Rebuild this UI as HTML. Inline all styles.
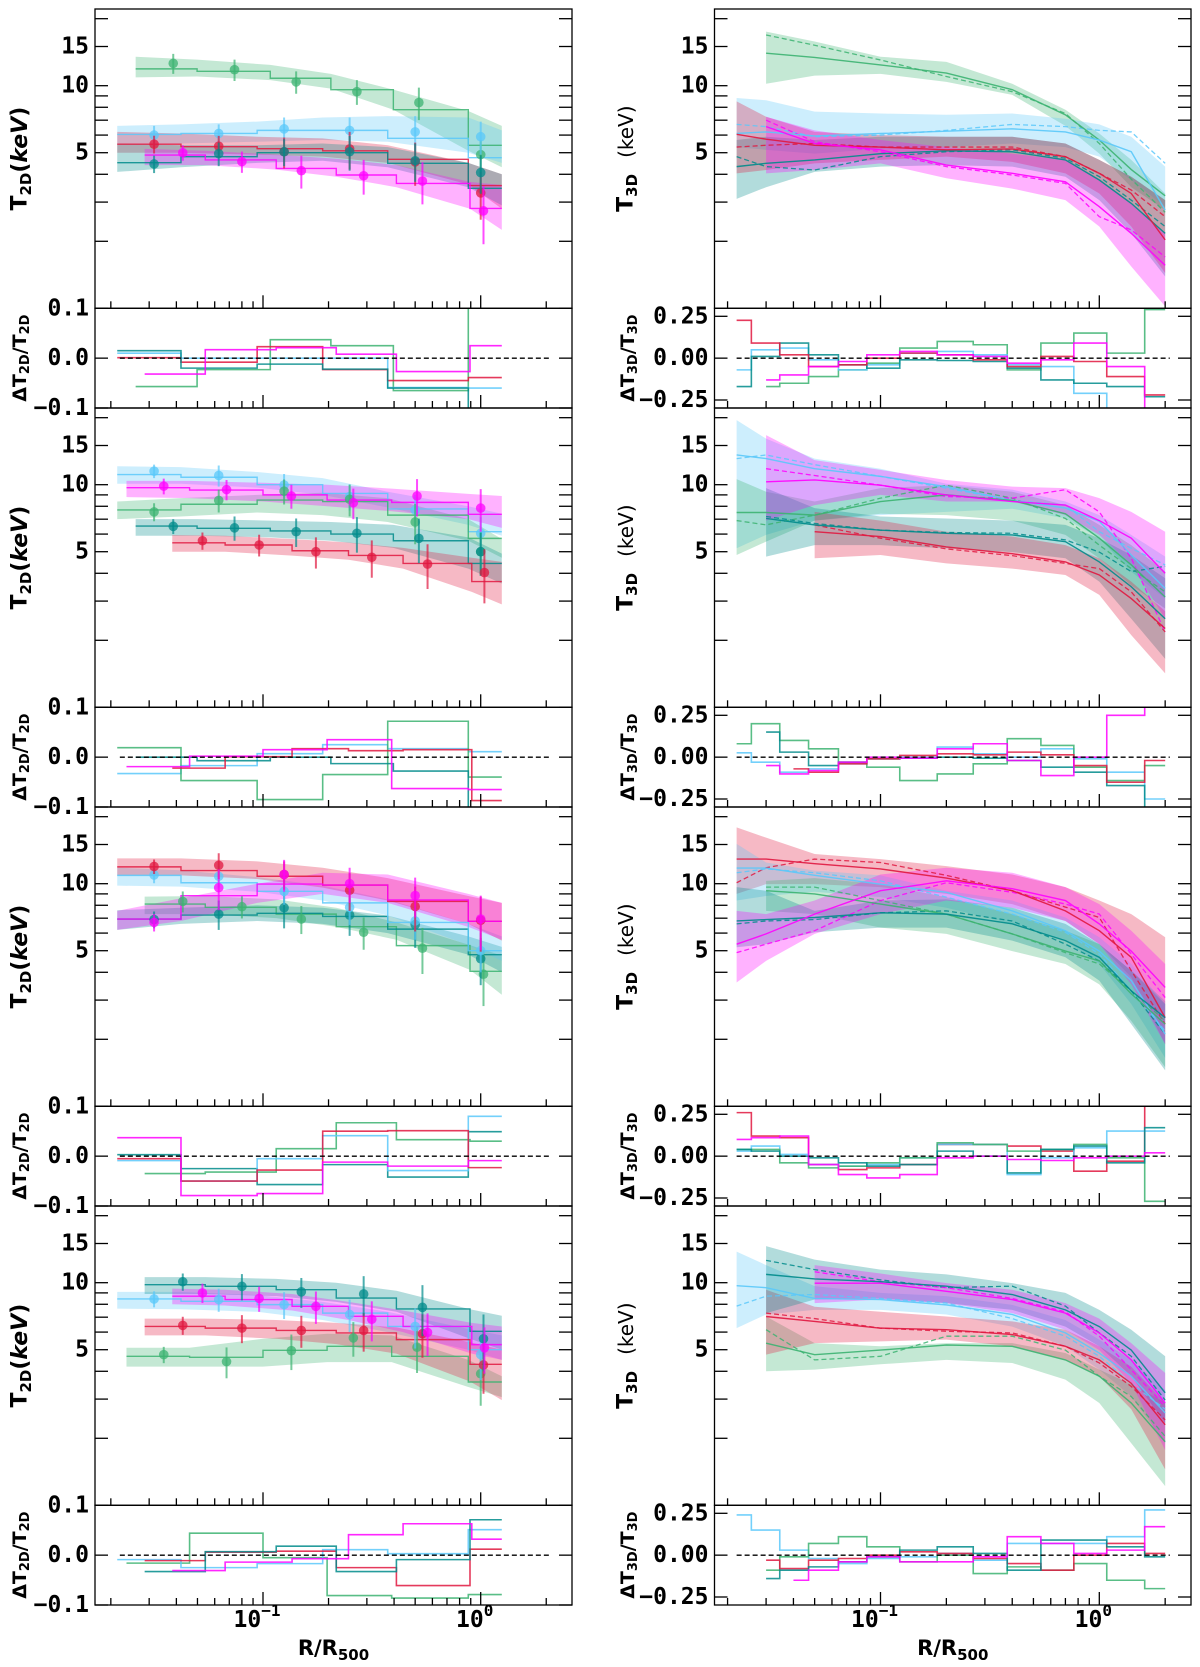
<!DOCTYPE html>
<html><head><meta charset="utf-8"><title>Temperature profiles</title>
<style>
html,body{margin:0;padding:0;background:#fff;}
svg{display:block;}
.tk{font-family:"DejaVu Sans Mono","Liberation Mono",monospace;font-weight:bold;font-size:23px;fill:#000;}
.ttl{font-family:"DejaVu Sans","Liberation Sans",sans-serif;font-weight:bold;fill:#000;}
</style></head>
<body>
<svg id="fig" xmlns="http://www.w3.org/2000/svg" width="1200" height="1667" viewBox="0 0 1200 1667"></svg>
<script>
// ---------- shared radial grids ----------
const E_A=[0.0214,0.042,0.094,0.188,0.374,0.877,1.25];
const E_B=[0.026,0.0498,0.108,0.205,0.397,0.877,1.25];
const E_C=[0.0286,0.0543,0.115,0.217,0.41,0.893,1.25];
const E_D=[0.0383,0.067,0.136,0.247,0.44,0.91,1.25];
const E_E=[0.0236,0.046,0.1,0.197,0.39,0.877,1.25];
const P_A=[0.0316,0.0626,0.125,0.25,0.5,1.0];
const P_B=[0.0387,0.074,0.142,0.27,0.52,1.0];
const P_C=[0.0428,0.08,0.15,0.29,0.54,1.03];
const P_D=[0.0527,0.096,0.175,0.316,0.57,1.04];
const P_E=[0.035,0.068,0.135,0.26,0.51,1.0];
const K10=[0.022,0.03,0.05,0.1,0.2,0.4,0.7,1.0,1.4,2.0];
const K14=[0.022,0.03,0.04,0.055,0.075,0.1,0.15,0.22,0.32,0.45,0.65,0.9,1.3,2.0];
const yTickMain=[5,10,15];
const yTickMinor=[2,3,4,6,7,8,9,20];
const resTickL=[0.1,0.0,-0.1];
const resTickLabL=['0.1','0.0','\u22120.1'];
const resTickR=[0.25,0.0,-0.25];
const resTickLabR=['0.25','0.00','\u22120.25'];

// ---------- LEFT row 1 ----------
const L1_green_step=[11.9,11.6,10.8,9.6,7.8,5.4];
const L1_green_T=[12.6,11.8,10.4,9.4,8.4,4.9];
const L1_green_err=[1.3,1.3,1.2,1.2,1.4,0.8];
const L1_green_lo=[10.9,11.0,10.6,9.7,7.8,5.1,4.3];
const L1_green_hi=[13.5,13.1,12.4,11.3,9.6,7.7,6.6];
const L1_green_res=[-0.057,-0.023,0.037,0.025,-0.065,0.15];
const L1_cyan_step=[6.04,6.1,6.3,6.3,5.8,4.75];
const L1_cyan_T=[6.0,6.1,6.4,6.3,6.2,5.9];
const L1_cyan_err=[0.6,0.6,0.8,0.9,1.1,1.0];
const L1_cyan_lo=[5.5,5.5,5.6,5.7,5.6,5.0,4.5];
const L1_cyan_hi=[6.6,6.7,6.9,7.2,7.3,7.2,6.3];
const L1_cyan_res=[0.01,0,0,0,-0.059,-0.06];
const L1_red_step=[5.46,5.32,5.21,5.1,4.67,3.56];
const L1_red_T=[5.46,5.35,5.05,5.2,4.55,3.3];
const L1_red_err=[0.5,0.6,0.8,1.0,1.0,0.8];
const L1_red_lo=[5.0,5.0,4.9,4.8,4.5,3.6,2.8];
const L1_red_hi=[6.2,6.1,5.9,5.8,5.4,4.5,4.0];
const L1_red_res=[0.001,-0.008,0.023,-0.023,-0.045,-0.039];
const L1_teal_step=[4.51,4.8,5.0,5.0,4.48,3.46];
const L1_teal_T=[4.45,4.95,5.05,5.05,4.6,4.07];
const L1_teal_err=[0.4,0.6,0.7,0.9,0.9,0.8];
const L1_teal_lo=[4.1,4.3,4.5,4.6,4.3,3.5,2.9];
const L1_teal_hi=[5.5,5.4,5.4,5.5,5.3,4.5,4.0];
const L1_teal_res=[0.015,-0.02,-0.012,-0.022,-0.06,-0.15];
const L1_magenta_step=[4.88,4.64,4.25,3.97,3.64,2.81];
const L1_magenta_T=[5.0,4.56,4.15,3.94,3.73,2.74];
const L1_magenta_err=[0.4,0.5,0.7,0.7,0.8,0.8];
const L1_magenta_lo=[4.4,4.4,4.2,3.9,3.5,2.8,2.25];
const L1_magenta_hi=[5.2,5.1,4.9,4.7,4.4,3.7,3.58];
const L1_magenta_res=[-0.032,0.017,0.021,0.008,-0.027,0.025];
// ---------- LEFT row 2 ----------
const L2_cyan_step=[11.1,10.8,10.0,9.14,7.78,6.15];
const L2_cyan_T=[11.5,11.0,9.97,8.85,7.7,6.05];
const L2_cyan_err=[0.8,1.2,1.2,1.2,1.3,1.1];
const L2_cyan_lo=[10.1,10.1,9.7,9.0,7.9,6.6,5.9];
const L2_cyan_hi=[12.1,12.0,11.4,10.7,9.3,8.0,7.4];
const L2_cyan_res=[-0.033,-0.017,0.007,0.025,0.017,0.011];
const L2_magenta_step=[9.7,9.46,9.0,8.53,8.33,7.36];
const L2_magenta_T=[9.85,9.5,8.9,8.3,8.9,7.85];
const L2_magenta_err=[0.8,1.0,1.1,1.3,1.7,1.7];
const L2_magenta_lo=[8.8,8.7,8.4,8.0,7.6,7.0,6.4];
const L2_magenta_hi=[10.4,10.4,10.2,10.0,9.6,9.1,8.9];
const L2_magenta_res=[-0.019,0.002,0.015,0.035,-0.063,-0.065];
const L2_green_step=[7.7,8.17,8.53,8.4,7.3,5.74];
const L2_green_T=[7.55,8.5,9.35,8.6,6.8,5.0];
const L2_green_err=[0.7,1.0,1.2,1.4,1.4,1.1];
const L2_green_lo=[7.0,7.2,7.5,7.3,6.8,5.6,4.7];
const L2_green_hi=[8.4,8.7,9.0,9.2,8.7,7.0,5.7];
const L2_green_res=[0.019,-0.047,-0.085,-0.035,0.072,-0.04];
const L2_teal_step=[6.52,6.37,6.2,6.0,5.6,4.43];
const L2_teal_T=[6.5,6.4,6.15,6.05,5.74,5.0];
const L2_teal_err=[0.5,0.8,0.9,1.1,1.3,1.1];
const L2_teal_lo=[5.9,5.9,5.8,5.6,5.2,4.2,3.6];
const L2_teal_hi=[7.0,7.0,6.9,6.8,6.6,5.8,4.9];
const L2_teal_res=[0,-0.007,0,-0.013,-0.028,-0.15];
const L2_red_step=[5.48,5.36,5.05,4.81,4.43,3.67];
const L2_red_T=[5.6,5.36,5.0,4.72,4.4,4.03];
const L2_red_err=[0.5,0.6,0.8,0.9,1.0,1.1];
const L2_red_lo=[5.0,5.0,4.8,4.6,4.2,3.3,2.9];
const L2_red_hi=[5.94,5.9,5.7,5.5,5.2,4.7,4.5];
const L2_red_res=[-0.022,0.001,0.017,0.013,0.015,-0.087];
// ---------- LEFT row 3 ----------
const L3_red_step=[11.9,11.45,10.8,9.86,8.33,6.78];
const L3_red_T=[11.95,12.1,11.0,9.35,7.9,6.85];
const L3_red_err=[0.9,1.6,1.6,1.8,1.8,1.9];
const L3_red_lo=[10.9,10.9,10.5,9.6,8.4,6.6,5.55];
const L3_red_hi=[13.0,13.0,12.6,11.8,10.6,8.8,8.2];
const L3_red_res=[-0.005,-0.05,-0.028,0.05,0.051,-0.023];
const L3_cyan_step=[10.9,10.1,9.24,8.2,6.7,5.0];
const L3_cyan_T=[10.95,10.8,9.24,7.83,6.8,5.0];
const L3_cyan_err=[0.9,1.2,1.2,1.3,1.2,1.0];
const L3_cyan_lo=[9.8,9.7,9.2,8.4,7.2,5.3,4.5];
const L3_cyan_hi=[11.8,11.5,10.7,9.8,8.5,6.6,5.8];
const L3_cyan_res=[-0.009,-0.05,-0.005,0.041,-0.029,0.08];
const L3_magenta_step=[6.94,8.83,9.96,9.86,8.45,6.78];
const L3_magenta_T=[6.7,9.6,11.0,10.0,8.85,6.94];
const L3_magenta_err=[0.6,2.0,1.8,1.8,1.8,1.9];
const L3_magenta_lo=[6.2,6.8,8.2,9.0,8.2,6.4,5.6];
const L3_magenta_hi=[7.55,8.6,10.0,11.2,11.0,9.0,8.2];
const L3_magenta_res=[0.037,-0.079,-0.075,-0.012,-0.02,-0.009];
const L3_teal_step=[6.94,7.23,7.36,7.13,6.25,4.8];
const L3_teal_T=[6.9,7.3,7.8,7.23,6.55,4.6];
const L3_teal_err=[0.6,1.1,1.5,1.4,1.4,1.1];
const L3_teal_lo=[6.2,6.6,6.8,6.6,6.0,4.8,4.0];
const L3_teal_hi=[7.6,7.8,8.0,7.8,7.2,5.8,5.2];
const L3_teal_res=[0.003,-0.025,-0.057,-0.017,-0.042,0.049];
const L3_green_step=[8.1,7.83,7.3,6.41,5.27,4.04];
const L3_green_T=[8.33,7.88,6.94,6.05,5.13,3.92];
const L3_green_err=[0.9,0.9,1.0,1.0,1.2,1.1];
const L3_green_lo=[7.3,7.3,7.0,6.4,5.6,4.1,3.17];
const L3_green_hi=[8.75,8.8,8.5,7.8,6.7,5.3,4.75];
const L3_green_res=[-0.035,-0.032,0.015,0.067,0.033,0.03];
// ---------- LEFT row 4 ----------
const L4_teal_step=[9.8,9.63,9.3,8.53,7.62,6.05];
const L4_teal_T=[10.1,9.63,9.1,8.9,7.75,5.6];
const L4_teal_err=[0.9,1.3,1.4,1.8,2.0,1.6];
const L4_teal_lo=[8.9,8.9,8.7,8.2,7.4,5.6,5.0];
const L4_teal_hi=[10.6,10.6,10.4,10.0,9.2,7.6,7.1];
const L4_teal_res=[-0.033,0.007,0.018,-0.033,-0.009,0.071];
const L4_magenta_step=[8.7,8.4,7.83,7.06,6.36,5.27];
const L4_magenta_T=[9.0,8.5,7.83,6.85,5.98,5.1];
const L4_magenta_err=[0.9,1.1,1.3,1.4,1.3,1.2];
const L4_magenta_lo=[8.0,7.9,7.5,6.8,6.0,4.8,4.5];
const L4_magenta_hi=[9.4,9.3,8.9,8.2,7.5,6.6,6.36];
const L4_magenta_res=[-0.031,-0.014,-0.007,0.041,0.063,0.032];
const L4_cyan_step=[8.45,8.25,7.97,7.3,6.36,5.0];
const L4_cyan_T=[8.45,8.4,7.97,7.2,6.36,4.75];
const L4_cyan_err=[0.7,1.0,1.1,1.2,1.3,1.1];
const L4_cyan_lo=[7.65,7.6,7.4,6.8,6.0,5.0,4.5];
const L4_cyan_hi=[9.1,9.1,8.8,8.2,7.4,6.2,5.8];
const L4_cyan_res=[-0.009,-0.025,-0.017,0.011,0.003,0.051];
const L4_red_step=[6.36,6.25,6.1,5.95,5.55,4.3];
const L4_red_T=[6.43,6.25,6.1,6.1,5.9,4.27];
const L4_red_err=[0.6,0.9,1.0,1.2,1.3,1.1];
const L4_red_lo=[5.8,5.8,5.6,5.3,4.8,3.6,2.97];
const L4_red_hi=[6.9,6.9,6.8,6.6,6.3,5.4,5.0];
const L4_red_res=[-0.011,0.006,0.008,-0.025,-0.061,0.012];
const L4_green_step=[4.67,4.62,4.97,5.18,4.67,3.58];
const L4_green_T=[4.75,4.42,4.95,5.65,5.13,3.9];
const L4_green_err=[0.4,0.7,0.9,1.0,1.2,1.1];
const L4_green_lo=[4.2,4.2,4.2,4.4,4.4,3.4,3.06];
const L4_green_hi=[5.1,5.1,5.6,5.9,5.8,4.5,3.8];
const L4_green_res=[-0.016,0.044,-0.005,-0.081,-0.086,-0.079];

// ---------- RIGHT row 1 (knots K10; residual K14) ----------
const R1_green_T=[null,14.0,13.4,12.4,11.4,9.6,7.4,5.7,4.2,3.2];
const R1_green_D=[null,16.9,15.2,13.05,11.0,9.4,7.5,5.5,3.8,2.7];
const R1_green_hi=[null,17.5,15.8,13.5,12.8,10.2,7.8,6.1,4.64,3.28];
const R1_green_lo=[null,10.2,11.1,11.3,10.4,9.1,6.6,4.95,3.5,2.76];
const R1_green_res=[null,-0.17,-0.15,-0.11,-0.07,-0.03,0.06,0.1,0.08,-0.07,0.09,0.15,0.03,0.29];
const R1_cyan_T=[6.1,6.2,5.95,6.1,6.25,6.4,6.2,5.7,5.05,2.76];
const R1_cyan_D=[6.7,6.55,5.9,6.0,6.3,6.7,6.55,6.3,6.2,4.48];
const R1_cyan_hi=[8.8,8.6,7.65,7.5,7.4,7.5,7.1,6.7,5.9,4.33];
const R1_cyan_lo=[5.3,5.15,4.95,5.2,5.3,5.5,5.3,4.8,3.77,2.86];
const R1_cyan_res=[-0.07,0.05,0.06,-0.01,-0.07,-0.04,0.03,0.04,0.02,-0.04,-0.05,-0.21,-0.32,-0.36];
const R1_red_T=[6.05,5.75,5.4,5.3,5.15,5.2,4.8,4.04,3.28,2.03];
const R1_red_D=[5.3,5.4,5.5,5.3,5.3,5.3,4.8,4.04,3.4,2.58];
const R1_red_hi=[8.5,7.25,6.2,6.0,5.9,5.9,5.5,4.64,3.9,3.06];
const R1_red_lo=[4.04,4.18,4.48,4.64,4.8,4.55,4.04,3.28,2.33,1.44];
const R1_red_res=[0.226,0.09,0.02,-0.05,-0.04,0,0.03,0.02,-0.01,-0.05,0.01,-0.02,-0.11,-0.22];
const R1_teal_T=[4.33,4.48,4.64,4.95,5.1,5.05,4.64,3.77,2.96,2.17];
const R1_teal_D=[4.8,4.33,4.18,4.8,5.05,5.15,4.72,3.9,3.06,2.33];
const R1_teal_hi=[5.7,5.9,5.7,5.9,5.9,5.9,5.5,4.64,3.9,3.06];
const R1_teal_lo=[3.1,3.5,4.1,4.33,4.4,4.33,3.9,3.06,2.17,1.39];
const R1_teal_res=[-0.17,0.01,0.09,0.02,-0.04,-0.06,-0.01,-0.014,-0.02,-0.06,-0.13,-0.15,-0.17,-0.23];
const R1_magenta_T=[null,6.55,5.5,5.15,4.4,4.04,3.7,2.86,2.17,1.56];
const R1_magenta_D=[null,7.0,5.6,5.05,4.33,3.97,3.64,2.58,2.25,1.7];
const R1_magenta_hi=[null,7.25,6.3,5.7,5.3,4.95,4.64,3.77,2.96,2.17];
const R1_magenta_lo=[null,4.04,4.18,4.48,3.84,3.45,3.06,2.33,1.54,1.02];
const R1_magenta_res=[null,-0.13,-0.1,-0.05,-0.02,0.02,0.04,0.02,0.01,-0.03,-0.01,0.09,-0.05,-0.3];
// ---------- RIGHT row 2 ----------
const R2_cyan_T=[13.6,13.1,11.8,10.9,9.8,8.5,7.85,6.85,4.83,3.42];
const R2_cyan_D=[13.1,13.6,12.3,10.9,9.65,8.5,8.1,6.15,5.18,4.36];
const R2_cyan_hi=[19.5,16.1,13.1,11.8,10.1,9.5,8.4,7.3,5.95,4.75];
const R2_cyan_lo=[5.18,5.95,6.9,7.3,7.55,7.8,7.05,5.75,4.07,3.08];
const R2_cyan_res=[0.026,-0.03,-0.09,-0.07,-0.04,-0.01,0,0.06,0.02,0,0.05,-0.01,-0.09,-0.25];
const R2_magenta_T=[null,10.3,10.5,9.95,9.0,8.4,8.1,6.9,5.75,4.0];
const R2_magenta_D=[null,11.8,11.0,9.95,8.85,8.7,9.5,7.55,4.67,2.18];
const R2_magenta_hi=[null,16.7,12.9,11.65,10.5,9.8,9.65,8.7,7.55,6.15];
const R2_magenta_lo=[null,6.9,8.1,9.0,8.4,8.4,7.3,5.95,4.36,2.5];
const R2_magenta_res=[null,-0.05,-0.1,-0.08,-0.03,0,-0.006,0.05,0.08,-0.02,-0.11,0,0.25,0.35];
const R2_green_T=[7.5,7.5,7.3,8.4,9.0,8.5,7.4,5.75,4.36,3.13];
const R2_green_D=[6.9,6.6,7.3,8.7,9.95,8.7,7.05,5.35,4.2,3.3];
const R2_green_hi=[10.6,9.3,8.4,9.65,9.95,9.3,8.1,6.6,5.35,4.07];
const R2_green_lo=[4.83,5.55,6.9,7.4,7.3,6.9,5.95,4.67,3.53,2.78];
const R2_green_res=[0.08,0.2,0.1,0.05,-0.03,-0.06,-0.14,-0.1,-0.04,0.11,0.07,-0.06,-0.14,-0.05];
const R2_teal_T=[null,7.05,6.6,6.25,6.05,5.95,5.55,4.5,3.48,2.5];
const R2_teal_D=[null,7.2,6.7,6.25,6.1,6.05,5.65,4.98,4.07,4.3];
const R2_teal_hi=[null,9.65,7.85,7.2,7.05,6.9,6.6,5.75,4.83,3.8];
const R2_teal_lo=[null,4.75,5.35,5.35,5.18,4.98,4.67,3.67,2.5,1.65];
const R2_teal_res=[null,0.15,0.03,-0.05,-0.03,-0.01,-0.006,0,-0.006,-0.02,-0.06,-0.09,-0.17,-0.35];
const R2_red_T=[null,null,6.15,5.85,5.25,4.9,4.5,3.93,3.08,2.26];
const R2_red_D=[null,null,6.6,5.75,5.15,4.8,4.43,4.2,3.3,2.18];
const R2_red_hi=[null,null,7.55,6.9,6.15,5.85,5.35,4.67,3.67,2.7];
const R2_red_lo=[null,null,4.67,4.83,4.43,4.2,3.93,3.2,2.11,1.42];
const R2_red_res=[null,null,-0.07,-0.09,-0.04,-0.01,0.01,0.02,0.014,0.03,0.014,-0.05,-0.15,-0.02];
// ---------- RIGHT row 3 ----------
const R3_red_T=[12.9,12.9,12.3,11.65,10.6,9.3,7.55,6.15,4.67,2.5];
const R3_red_D=[10.1,11.8,12.9,12.45,10.9,9.3,7.85,7.05,4.07,2.34];
const R3_red_hi=[17.9,16.1,13.6,12.9,12.0,11.0,9.65,8.4,7.3,5.75];
const R3_red_lo=[9.0,9.95,9.95,9.65,9.0,8.1,6.8,5.35,3.8,1.9];
const R3_red_res=[0.26,0.12,0.11,-0.05,-0.08,-0.07,-0.05,0.07,0.07,0.06,0.03,-0.09,-0.03,0.31];
const R3_cyan_T=[11.75,11.75,10.9,9.95,9.15,7.55,6.15,4.98,3.67,2.11];
const R3_cyan_D=[11.2,11.65,11.2,10.3,8.7,7.3,6.05,4.83,3.3,2.18];
const R3_cyan_hi=[15.1,12.45,11.45,10.9,9.3,8.4,7.05,5.75,4.36,2.88];
const R3_cyan_lo=[8.4,8.8,9.2,8.7,7.8,6.6,5.55,4.36,2.88,1.65];
const R3_cyan_res=[0.03,0.06,0.01,-0.05,-0.06,-0.05,-0.01,0.07,0.07,-0.11,-0.01,0.05,0.15,0.15];
const R3_green_T=[null,9.3,9.0,8.1,7.3,5.95,4.98,4.5,3.2,2.34];
const R3_green_D=[null,9.65,9.65,8.4,7.3,5.95,4.9,4.36,3.3,2.42];
const R3_green_hi=[null,10.3,10.6,9.95,8.7,7.3,6.15,5.35,4.07,2.97];
const R3_green_lo=[null,7.55,7.3,6.35,5.95,4.98,4.36,3.53,2.42,1.5];
const R3_green_res=[0.04,0.04,-0.04,-0.07,-0.06,-0.04,-0.01,0.08,0.07,0.03,0.04,0.07,-0.01,-0.27];
const R3_teal_T=[6.8,6.9,7.05,7.4,7.3,6.6,5.55,4.67,3.3,2.5];
const R3_teal_D=[6.6,6.8,6.9,7.4,7.55,6.8,5.35,4.5,3.3,2.11];
const R3_teal_hi=[9.65,9.3,7.55,8.4,8.5,7.8,6.6,5.35,4.07,2.88];
const R3_teal_lo=[5.18,5.35,6.05,6.35,6.35,5.55,4.67,3.67,2.34,1.45];
const R3_teal_res=[0.04,0.03,0,-0.01,-0.04,-0.06,-0.05,0.03,0,-0.1,0.04,0.06,-0.04,0.17];
const R3_magenta_T=[5.35,5.95,7.3,9.3,10.3,9.5,8.4,6.6,4.98,3.42];
const R3_magenta_D=[4.9,5.35,6.15,8.4,10.1,9.15,8.1,7.3,4.83,3.08];
const R3_magenta_hi=[7.55,7.3,8.4,11.0,11.8,11.2,9.65,8.1,6.15,4.36];
const R3_magenta_lo=[3.6,4.5,5.95,7.3,8.4,7.8,6.8,5.35,3.53,1.9];
const R3_magenta_res=[0.1,0.11,0.12,-0.05,-0.11,-0.13,-0.11,-0.01,0,-0.02,-0.026,-0.01,0,0.02];
// ---------- RIGHT row 4 ----------
const R4_cyan_T=[9.7,9.5,8.5,8.4,7.95,7.2,5.95,4.83,3.8,2.6];
const R4_cyan_D=[7.85,8.7,8.85,8.5,8.1,6.9,5.75,4.67,3.53,2.7];
const R4_cyan_hi=[13.8,12.0,9.65,9.0,8.7,7.95,6.8,5.55,4.5,3.3];
const R4_cyan_lo=[6.25,7.2,7.55,7.55,7.2,6.35,5.18,4.07,3.08,1.9];
const R4_cyan_res=[0.24,0.15,0.03,-0.02,-0.05,-0.02,-0.01,0.01,-0.03,0.07,0.07,0.07,0.11,0.27];
const R4_green_T=[null,5.35,4.75,4.98,5.25,5.18,4.5,3.8,2.88,1.93];
const R4_green_D=[null,6.15,4.5,4.67,5.75,5.75,4.98,3.8,3.08,2.04];
const R4_green_hi=[null,7.05,5.35,5.18,5.35,5.35,4.83,4.07,3.5,2.9];
const R4_green_lo=[null,4.0,4.07,4.3,4.5,4.36,3.67,2.88,1.9,1.22];
const R4_green_res=[null,-0.09,-0.01,0.07,0.11,0.05,-0.04,0,-0.11,-0.07,-0.09,-0.05,-0.15,-0.2];
const R4_red_T=[null,7.05,6.7,6.25,6.15,5.85,5.18,4.5,3.53,2.3];
const R4_red_D=[null,7.3,6.9,6.25,6.05,5.95,5.18,4.36,3.42,2.42];
const R4_red_hi=[null,9.3,7.8,7.4,7.05,6.7,6.15,5.18,4.2,2.88];
const R4_red_lo=[null,4.75,5.35,5.45,5.55,5.18,4.5,3.8,2.7,1.45];
const R4_red_res=[null,-0.03,-0.08,-0.03,-0.02,0,0.02,0.01,-0.02,-0.05,-0.09,0,0.07,0.01];
const R4_teal_T=[null,10.9,10.4,10.1,9.65,8.85,7.55,6.35,4.98,3.2];
const R4_teal_D=[null,12.6,11.45,10.3,9.5,9.65,7.85,5.95,4.67,2.97];
const R4_teal_hi=[null,14.6,12.7,11.45,10.9,9.95,9.0,7.55,6.15,4.67];
const R4_teal_lo=[null,7.3,8.4,8.5,8.1,7.55,6.35,5.18,3.8,2.34];
const R4_teal_res=[null,-0.14,-0.09,-0.07,-0.04,-0.01,0.03,0.05,0.01,-0.09,0.09,0.09,0.05,-0.01];
const R4_magenta_T=[null,null,9.95,9.95,9.15,8.4,7.3,5.95,4.5,2.88];
const R4_magenta_D=[null,null,11.2,10.1,9.5,8.5,7.4,5.75,4.07,2.78];
const R4_magenta_hi=[null,null,12.0,11.0,9.95,9.3,8.1,6.9,5.35,3.93];
const R4_magenta_lo=[null,null,8.1,8.4,8.1,7.3,6.15,4.98,3.53,1.77];
const R4_magenta_res=[null,null,-0.15,-0.09,-0.04,-0.01,-0.04,-0.04,-0.01,0.11,0.07,0.01,0.03,0.17];

// ---------- series assembly ----------
const COL={green:'#3cb371',cyan:'#5ac8fa',red:'#e0173f',magenta:'#ff00ff',teal:'#008b8b'};
const LROWS=[
 [{c:'green',e:E_B,s:L1_green_step,r:P_B,t:L1_green_T,er:L1_green_err,lo:L1_green_lo,hi:L1_green_hi,res:L1_green_res},
  {c:'cyan',e:E_A,s:L1_cyan_step,r:P_A,t:L1_cyan_T,er:L1_cyan_err,lo:L1_cyan_lo,hi:L1_cyan_hi,res:L1_cyan_res},
  {c:'red',e:E_A,s:L1_red_step,r:P_A,t:L1_red_T,er:L1_red_err,lo:L1_red_lo,hi:L1_red_hi,res:L1_red_res},
  {c:'teal',e:E_A,s:L1_teal_step,r:P_A,t:L1_teal_T,er:L1_teal_err,lo:L1_teal_lo,hi:L1_teal_hi,res:L1_teal_res},
  {c:'magenta',e:E_C,s:L1_magenta_step,r:P_C,t:L1_magenta_T,er:L1_magenta_err,lo:L1_magenta_lo,hi:L1_magenta_hi,res:L1_magenta_res}],
 [{c:'cyan',e:E_A,s:L2_cyan_step,r:P_A,t:L2_cyan_T,er:L2_cyan_err,lo:L2_cyan_lo,hi:L2_cyan_hi,res:L2_cyan_res},
  {c:'green',e:E_A,s:L2_green_step,r:P_A,t:L2_green_T,er:L2_green_err,lo:L2_green_lo,hi:L2_green_hi,res:L2_green_res},
  {c:'teal',e:E_B,s:L2_teal_step,r:P_B,t:L2_teal_T,er:L2_teal_err,lo:L2_teal_lo,hi:L2_teal_hi,res:L2_teal_res},
  {c:'red',e:E_D,s:L2_red_step,r:P_D,t:L2_red_T,er:L2_red_err,lo:L2_red_lo,hi:L2_red_hi,res:L2_red_res},
  {c:'magenta',e:E_E,s:L2_magenta_step,r:P_E,t:L2_magenta_T,er:L2_magenta_err,lo:L2_magenta_lo,hi:L2_magenta_hi,res:L2_magenta_res}],
 [{c:'green',e:E_C,s:L3_green_step,r:P_C,t:L3_green_T,er:L3_green_err,lo:L3_green_lo,hi:L3_green_hi,res:L3_green_res},
  {c:'teal',e:E_A,s:L3_teal_step,r:P_A,t:L3_teal_T,er:L3_teal_err,lo:L3_teal_lo,hi:L3_teal_hi,res:L3_teal_res},
  {c:'cyan',e:E_A,s:L3_cyan_step,r:P_A,t:L3_cyan_T,er:L3_cyan_err,lo:L3_cyan_lo,hi:L3_cyan_hi,res:L3_cyan_res},
  {c:'red',e:E_A,s:L3_red_step,r:P_A,t:L3_red_T,er:L3_red_err,lo:L3_red_lo,hi:L3_red_hi,res:L3_red_res},
  {c:'magenta',e:E_A,s:L3_magenta_step,r:P_A,t:L3_magenta_T,er:L3_magenta_err,lo:L3_magenta_lo,hi:L3_magenta_hi,res:L3_magenta_res}],
 [{c:'green',e:E_E,s:L4_green_step,r:P_E,t:L4_green_T,er:L4_green_err,lo:L4_green_lo,hi:L4_green_hi,res:L4_green_res},
  {c:'cyan',e:E_A,s:L4_cyan_step,r:P_A,t:L4_cyan_T,er:L4_cyan_err,lo:L4_cyan_lo,hi:L4_cyan_hi,res:L4_cyan_res},
  {c:'red',e:E_C,s:L4_red_step,r:P_C,t:L4_red_T,er:L4_red_err,lo:L4_red_lo,hi:L4_red_hi,res:L4_red_res},
  {c:'teal',e:E_C,s:L4_teal_step,r:P_C,t:L4_teal_T,er:L4_teal_err,lo:L4_teal_lo,hi:L4_teal_hi,res:L4_teal_res},
  {c:'magenta',e:E_D,s:L4_magenta_step,r:P_D,t:L4_magenta_T,er:L4_magenta_err,lo:L4_magenta_lo,hi:L4_magenta_hi,res:L4_magenta_res}]
];
const RROWS=[
 [{c:'green',t:R1_green_T,d:R1_green_D,lo:R1_green_lo,hi:R1_green_hi,res:R1_green_res},
  {c:'cyan',t:R1_cyan_T,d:R1_cyan_D,lo:R1_cyan_lo,hi:R1_cyan_hi,res:R1_cyan_res},
  {c:'teal',t:R1_teal_T,d:R1_teal_D,lo:R1_teal_lo,hi:R1_teal_hi,res:R1_teal_res},
  {c:'red',t:R1_red_T,d:R1_red_D,lo:R1_red_lo,hi:R1_red_hi,res:R1_red_res},
  {c:'magenta',t:R1_magenta_T,d:R1_magenta_D,lo:R1_magenta_lo,hi:R1_magenta_hi,res:R1_magenta_res}],
 [{c:'cyan',t:R2_cyan_T,d:R2_cyan_D,lo:R2_cyan_lo,hi:R2_cyan_hi,res:R2_cyan_res},
  {c:'green',t:R2_green_T,d:R2_green_D,lo:R2_green_lo,hi:R2_green_hi,res:R2_green_res},
  {c:'teal',t:R2_teal_T,d:R2_teal_D,lo:R2_teal_lo,hi:R2_teal_hi,res:R2_teal_res},
  {c:'red',t:R2_red_T,d:R2_red_D,lo:R2_red_lo,hi:R2_red_hi,res:R2_red_res},
  {c:'magenta',t:R2_magenta_T,d:R2_magenta_D,lo:R2_magenta_lo,hi:R2_magenta_hi,res:R2_magenta_res}],
 [{c:'red',t:R3_red_T,d:R3_red_D,lo:R3_red_lo,hi:R3_red_hi,res:R3_red_res},
  {c:'cyan',t:R3_cyan_T,d:R3_cyan_D,lo:R3_cyan_lo,hi:R3_cyan_hi,res:R3_cyan_res},
  {c:'green',t:R3_green_T,d:R3_green_D,lo:R3_green_lo,hi:R3_green_hi,res:R3_green_res},
  {c:'teal',t:R3_teal_T,d:R3_teal_D,lo:R3_teal_lo,hi:R3_teal_hi,res:R3_teal_res},
  {c:'magenta',t:R3_magenta_T,d:R3_magenta_D,lo:R3_magenta_lo,hi:R3_magenta_hi,res:R3_magenta_res}],
 [{c:'cyan',t:R4_cyan_T,d:R4_cyan_D,lo:R4_cyan_lo,hi:R4_cyan_hi,res:R4_cyan_res},
  {c:'green',t:R4_green_T,d:R4_green_D,lo:R4_green_lo,hi:R4_green_hi,res:R4_green_res},
  {c:'red',t:R4_red_T,d:R4_red_D,lo:R4_red_lo,hi:R4_red_hi,res:R4_red_res},
  {c:'teal',t:R4_teal_T,d:R4_teal_D,lo:R4_teal_lo,hi:R4_teal_hi,res:R4_teal_res},
  {c:'magenta',t:R4_magenta_T,d:R4_magenta_D,lo:R4_magenta_lo,hi:R4_magenta_hi,res:R4_magenta_res}]
];

// ---------- geometry ----------
const NS='http://www.w3.org/2000/svg';
const svg=document.getElementById('fig');
const LEFT={x0:95,x1:572,cx:480.7,dec:217.7,name:'left'};
const RIGHT={x0:714.5,x1:1191,cx:1099.3,dec:218.8,name:'right'};
const MAINH=299.3, RESH=99.7, ROWH=399, TOP0=9, YDEC=222.6;
function rowTop(i){return TOP0+ROWH*i;}
function xs(p,r){return p.cx+p.dec*Math.log10(r);}
function yM(i,T){return rowTop(i)+MAINH-YDEC*Math.log10(T);}
function yRes(p,i,v){const c=rowTop(i)+MAINH+RESH/2;return c-v*(p===LEFT?498.5:167.4);}
function el(tag,attrs,parent){const e=document.createElementNS(NS,tag);for(const k in attrs)e.setAttribute(k,attrs[k]);(parent||svg).appendChild(e);return e;}
const defs=el('defs',{});



function clip(id,x,y,w,h){const cp=el('clipPath',{id:id},defs);el('rect',{x:x,y:y,width:w,height:h},cp);}

function drawXTicks(p,yb,g){
  for(let d=-2;d<=0;d++){for(let m=1;m<=9;m++){const r=m*Math.pow(10,d);const x=xs(p,r);if(x<p.x0+1||x>p.x1-1)continue;
    const L=(m===1)?13:7;el('line',{x1:x,y1:yb,x2:x,y2:yb-L,stroke:'#000','stroke-width':1.3},g);}}
}
function drawPanelFrame(p,i){
  const t=rowTop(i);
  const g=el('g',{});
  
  
  el('rect',{x:p.x0,y:t,width:p.x1-p.x0,height:MAINH,fill:'none',stroke:'#000','stroke-width':1.3},g);
  el('rect',{x:p.x0,y:t+MAINH,width:p.x1-p.x0,height:RESH,fill:'none',stroke:'#000','stroke-width':1.3},g);
  drawXTicks(p,t+MAINH,g);
  drawXTicks(p,t+MAINH+RESH,g);
  const all=yTickMain.concat(yTickMinor);
  for(const v of all){const y=yM(i,v);if(y<t+1)continue;
    el('line',{x1:p.x0,y1:y,x2:p.x0+13,y2:y,stroke:'#000','stroke-width':1.3},g);
    el('line',{x1:p.x1,y1:y,x2:p.x1-13,y2:y,stroke:'#000','stroke-width':1.3},g);}
  for(const v of yTickMain){const tx=el('text',{x:p.x0-6,y:yM(i,v),'text-anchor':'end','dominant-baseline':'central',class:'tk'},g);tx.textContent=String(v);
    
    }
  const rt=(p===LEFT)?resTickL:resTickR, rl=(p===LEFT)?resTickLabL:resTickLabR;
  rt.forEach((v,k)=>{const y=yRes(p,i,v);
    el('line',{x1:p.x0,y1:y,x2:p.x0+13,y2:y,stroke:'#000','stroke-width':1.3},g);
    el('line',{x1:p.x1,y1:y,x2:p.x1-13,y2:y,stroke:'#000','stroke-width':1.3},g);
    const tx=el('text',{x:p.x0-6,y:y,'text-anchor':'end','dominant-baseline':'central',class:'tk'},g);tx.textContent=rl[k];
    
    });
  const z=el('line',{x1:xs(p,0.022),y1:yRes(p,i,0),x2:xs(p,2.1),y2:yRes(p,i,0),stroke:'#000','stroke-width':1.4,'stroke-dasharray':'5,3'},g);
  
  
  const cxT=(p===LEFT)?20:626;
  const ym=t+MAINH/2;
  const tt=el('text',{x:cxT,y:ym,'text-anchor':'middle','dominant-baseline':'central',transform:'rotate(-90 '+cxT+' '+ym+')',class:'ttl','font-size':22},g);
  
  
  if(p===LEFT){tt.innerHTML='T<tspan font-size="15" dy="6">2D</tspan><tspan dy="-6">(</tspan><tspan font-style="italic">keV</tspan>)';}
  else{tt.innerHTML='T<tspan font-size="15" dy="6">3D</tspan><tspan dy="-6" dx="16" font-weight="normal" font-size="20">(keV)</tspan>';}
  const yr=t+MAINH+RESH/2;
  const cxR=(p===LEFT)?20:628;
  const rtl=el('text',{x:cxR,y:yr,'text-anchor':'middle','dominant-baseline':'central',transform:'rotate(-90 '+cxR+' '+yr+')',class:'ttl','font-size':19},g);
  
  
  const sub=(p===LEFT)?'2D':'3D';
  rtl.innerHTML='\u0394T<tspan font-size="13" dy="5">'+sub+'</tspan><tspan dy="-5">/T</tspan><tspan font-size="13" dy="5">'+sub+'</tspan>';
}

function drawLeftRow(i){
  const p=LEFT,t=rowTop(i);
  clip('cm-l'+i,p.x0,t,p.x1-p.x0,MAINH);
  clip('cr-l'+i,p.x0,t+MAINH,p.x1-p.x0,RESH);
  const gm=el('g',{'clip-path':'url(#cm-l'+i+')'});
  
  
  const series=LROWS[i];
  series.forEach(s=>{
    const pts=s.e.map((r,k)=>xs(p,r)+','+yM(i,s.hi[k])).concat(s.e.slice().reverse().map((r,k)=>xs(p,r)+','+yM(i,s.lo[s.e.length-1-k])));
    const b=el('polygon',{points:pts.join(' '),fill:COL[s.c],'fill-opacity':0.3,stroke:'none'},gm);
    
    
  });
  series.forEach(s=>{
    let d='M'+xs(p,s.e[0])+' '+yM(i,s.s[0]);
    for(let k=0;k<s.s.length;k++){d+=' H'+xs(p,s.e[k+1]);if(k+1<s.s.length)d+=' V'+yM(i,s.s[k+1]);}
    const l=el('path',{d:d,fill:'none',stroke:COL[s.c],'stroke-width':1.4,'stroke-opacity':0.85},gm);
    
    
  });
  series.forEach(s=>{
    s.r.forEach((r,k)=>{
      const x=xs(p,r);
      const eb=el('line',{x1:x,y1:yM(i,s.t[k]+s.er[k]),x2:x,y2:yM(i,Math.max(0.5,s.t[k]-s.er[k])),stroke:COL[s.c],'stroke-width':2,'stroke-opacity':0.7},gm);
      
      
      const c=el('circle',{cx:x,cy:yM(i,s.t[k]),r:4.8,fill:COL[s.c],'fill-opacity':0.75},gm);
      
      
    });
  });
  const gr=el('g',{'clip-path':'url(#cr-l'+i+')'});
  
  
  series.forEach(s=>{
    let d='M'+xs(p,s.e[0])+' '+yRes(p,i,s.res[0]);
    for(let k=0;k<s.res.length;k++){d+=' H'+xs(p,s.e[k+1]);if(k+1<s.res.length)d+=' V'+yRes(p,i,s.res[k+1]);}
    const l=el('path',{d:d,fill:'none',stroke:COL[s.c],'stroke-width':1.6,'stroke-opacity':0.85},gr);
    
    
  });
}

function idx(a){const o=[];a.forEach((v,k)=>{if(v!==null)o.push(k);});return o;}
function drawRightRow(i){
  const p=RIGHT,t=rowTop(i);
  clip('cm-r'+i,p.x0,t,p.x1-p.x0,MAINH);
  clip('cr-r'+i,p.x0,t+MAINH,p.x1-p.x0,RESH);
  const gm=el('g',{'clip-path':'url(#cm-r'+i+')'});
  
  
  const series=RROWS[i];
  series.forEach(s=>{
    const ix=idx(s.t);
    const pts=ix.map(k=>xs(p,K10[k])+','+yM(i,s.hi[k])).concat(ix.slice().reverse().map(k=>xs(p,K10[k])+','+yM(i,s.lo[k])));
    const b=el('polygon',{points:pts.join(' '),fill:COL[s.c],'fill-opacity':0.3,stroke:'none'},gm);
    
    
  });
  series.forEach(s=>{
    const ix=idx(s.d);
    const dl=el('polyline',{points:ix.map(k=>xs(p,K10[k])+','+yM(i,s.d[k])).join(' '),fill:'none',stroke:COL[s.c],'stroke-width':1.3,'stroke-dasharray':'5,3','stroke-opacity':0.85},gm);
    
    
  });
  series.forEach(s=>{
    const ix=idx(s.t);
    const sl=el('polyline',{points:ix.map(k=>xs(p,K10[k])+','+yM(i,s.t[k])).join(' '),fill:'none',stroke:COL[s.c],'stroke-width':1.4,'stroke-opacity':0.9},gm);
    
    
  });
  const gr=el('g',{'clip-path':'url(#cr-r'+i+')'});
  
  
  series.forEach(s=>{
    const ix=idx(s.res);
    let d='';
    ix.forEach((k,j)=>{
      const le=(j===0)?K14[k]:Math.sqrt(K14[k]*K14[ix[j-1]]);
      const re=(j===ix.length-1)?K14[k]:Math.sqrt(K14[k]*K14[ix[j+1]]);
      const y=yRes(p,i,s.res[k]);
      d+=(j===0?'M'+xs(p,le)+' '+y:' V'+y)+' H'+xs(p,re);
    });
    const l=el('path',{d:d,fill:'none',stroke:COL[s.c],'stroke-width':1.6,'stroke-opacity':0.85},gr);
    
    
  });
}

for(let i=0;i<4;i++){drawLeftRow(i);drawRightRow(i);}
for(let i=0;i<4;i++){drawPanelFrame(LEFT,i);drawPanelFrame(RIGHT,i);}

[LEFT,RIGHT].forEach(p=>{
  [[0.1,'\u22121'],[1,'0']].forEach(([r,e])=>{
    const tx=el('text',{x:xs(p,r)-6,y:1627,'text-anchor':'middle',class:'tk','font-size':24});
    
    
    tx.innerHTML='10<tspan font-size="16" dy="-11">'+e+'</tspan>';
  });
  const xt=el('text',{x:(p.x0+p.x1)/2,y:1655,'text-anchor':'middle',class:'ttl','font-size':21});
  
  
  xt.innerHTML='R/R<tspan font-size="15" dy="5">500</tspan>';
});
</script>
</body></html>
